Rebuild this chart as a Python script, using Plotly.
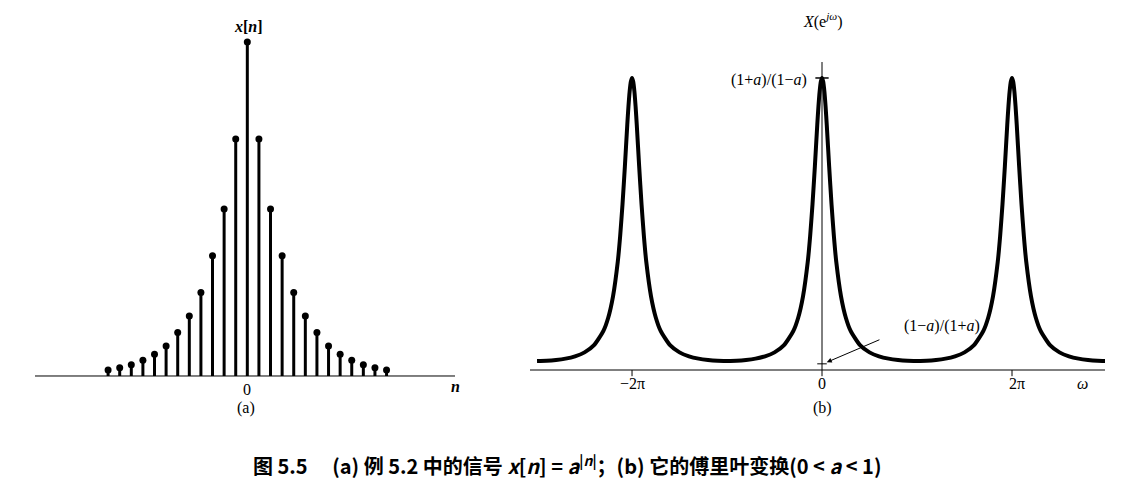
import plotly.graph_objects as go

# Left: x[n] = a^|n| (a ~ 0.7)
n_vals = list(range(-12, 13))
half_x = [1.0, 0.71, 0.50, 0.36, 0.25, 0.18, 0.13, 0.09, 0.065, 0.047, 0.034, 0.025, 0.018]
xn = half_x[:0:-1] + half_x

# Right: one period sample of X(e^jw), w in units of pi
w_half = [0, 0.0125, 0.025, 0.0375, 0.05, 0.075, 0.1, 0.125, 0.15, 0.2, 0.25, 0.3, 0.4, 0.5, 0.6, 0.7, 0.8, 0.9, 1.0]
X_half = [5.67, 5.60, 5.41, 5.12, 4.76, 3.96, 3.22, 2.60, 2.10, 1.43, 1.02, 0.765, 0.482, 0.342, 0.265, 0.2205, 0.1945, 0.1808, 0.1765]
centers = [-2, 0, 2]

OFF = 8  # page body margin
W, H = 1135 - OFF, 494 - OFF
def px(x): return (x - OFF) / W
def py(y): return 1 - (y - OFF) / H

fig = go.Figure()
sx, sy = [], []
for n, v in zip(n_vals, xn):
    sx += [n, n, None]; sy += [0, v, None]
fig.add_trace(go.Scatter(x=sx, y=sy, mode="lines", line=dict(color="black", width=3), xaxis="x", yaxis="y", hoverinfo="skip"))
fig.add_trace(go.Scatter(x=n_vals, y=xn, mode="markers", marker=dict(color="black", size=7), xaxis="x", yaxis="y"))
fig.add_trace(go.Scatter(x=[-18.3, 17.9], y=[0, 0], mode="lines", line=dict(color="black", width=1), xaxis="x", yaxis="y"))

cw, cX = [], []
for c in centers:
    for w, v in zip(w_half[:0:-1], X_half[:0:-1]):
        cw.append(c - w); cX.append(v)
    for w, v in zip(w_half, X_half):
        cw.append(c + w); cX.append(v)
fig.add_trace(go.Scatter(x=cw, y=cX, mode="lines", line=dict(color="black", width=4, shape="spline", smoothing=0.6), xaxis="x2", yaxis="y2"))
fig.add_trace(go.Scatter(x=[-3.074, 2.979], y=[0, 0], mode="lines", line=dict(color="black", width=1), xaxis="x2", yaxis="y2"))
fig.add_trace(go.Scatter(x=[0, 0], y=[0, 5.98], mode="lines", line=dict(color="black", width=1), xaxis="x2", yaxis="y2"))
fig.add_trace(go.Scatter(x=[-0.07, 0.07], y=[X_half[0], X_half[0]], mode="lines", line=dict(color="black", width=1.5), xaxis="x2", yaxis="y2"))
tx, ty = [], []
for c in centers:
    tx += [c, c, None]; ty += [0, -0.12, None]
fig.add_trace(go.Scatter(x=tx, y=ty, mode="lines", line=dict(color="black", width=1), xaxis="x2", yaxis="y2"))
fig.add_trace(go.Scatter(x=[-0.05, 0.05], y=[0.12, 0.12], mode="lines", line=dict(color="black", width=1), xaxis="x2", yaxis="y2"))

ax = dict(visible=False, showgrid=False, zeroline=False, fixedrange=True)
fig.update_layout(
    width=W, height=H, margin=dict(l=0, r=0, t=0, b=0),
    plot_bgcolor="white", paper_bgcolor="white", showlegend=False,
    font=dict(family="Liberation Serif", color="black", size=16),
    xaxis=dict(ax, domain=[px(35), px(455)], range=[-18.3, 17.9]),
    yaxis=dict(ax, domain=[py(380), py(10)], range=[-0.012, 1.096]),
    xaxis2=dict(ax, domain=[px(530), px(1105)], range=[-3.074, 2.979]),
    yaxis2=dict(ax, domain=[py(380), py(10)], range=[-0.194, 6.99]),
)

def lab(x, y, t, xanchor="center", **kw):
    fig.add_annotation(x=px(x), y=py(y), xref="paper", yref="paper", text=t, showarrow=False,
                       xanchor=xanchor, yanchor="middle", **kw)

lab(248, 27, "<b><i>x</i>[<i>n</i>]</b>")
lab(247, 389, "0")
lab(456, 386, "<b><i>n</i></b>")
lab(246, 408, "(a)")
lab(632, 383, "−2π")
lab(822, 383, "0")
lab(1017, 383, "2π")
lab(1082, 383, "<i>ω</i>")
lab(822, 408, "(b)")
lab(823, 20, "<i>X</i>(e<sup><i>jω</i></sup>)")
lab(809, 80, "(1+<i>a</i>)/(1−<i>a</i>)", xanchor="right")
fig.add_annotation(x=0.05, y=0.15, xref="x2", yref="y2", ax=0.62, ay=0.6, axref="x2", ayref="y2",
                   text="", showarrow=True, arrowhead=2, arrowsize=1, arrowwidth=1, arrowcolor="black")
lab(942, 326, "(1−<i>a</i>)/(1+<i>a</i>)")
lab(567, 465, "<b>图 5.5　 (a) 例 5.2 中的信号 <i>x</i>[<i>n</i>] = <i>a</i><sup>|<i>n</i>|</sup>；(b) 它的傅里叶变换(0 &lt; <i>a</i> &lt; 1)</b>",
    font=dict(family="Noto Sans CJK SC", size=20))

fig.write_html("out.html")
